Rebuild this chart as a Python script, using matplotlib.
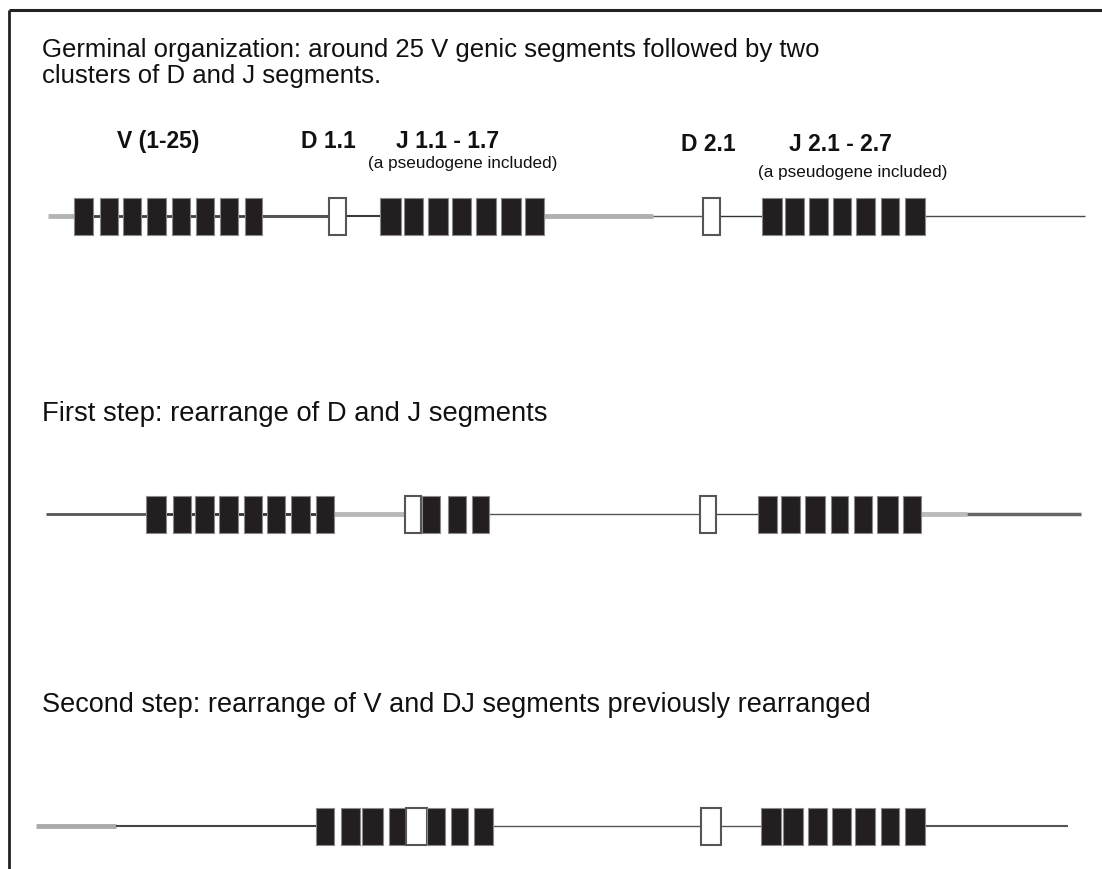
import matplotlib.pyplot as plt
from matplotlib.patches import Rectangle

plt.rcParams['font.family'] = ['Liberation Sans', 'DejaVu Sans']

# captions
title_lines = ["Germinal organization: around 25 V genic segments followed by two",
               "clusters of D and J segments."]
step1_text = "First step: rearrange of D and J segments"
step2_text = "Second step: rearrange of V and DJ segments previously rearranged"

# segment labels of the germinal locus
seg_labels = ["V (1-25)", "D 1.1", "J 1.1 - 1.7", "D 2.1", "J 2.1 - 2.7"]
seg_label_x = [117, 301, 396, 681, 789]
seg_label_y = [148, 148, 148, 151, 151]
pseudo_text = "(a pseudogene included)"
pseudo_x = [368, 758]
pseudo_y = [168, 177]

# line of each locus (y position)
row_y = [216, 514, 826]

# gene segments per row: (x_left, x_right, kind)  B = coding segment, O = open (D) segment
row1_boxes = [(74, 93, 'B'), (100, 118, 'B'), (123, 141, 'B'), (147, 166, 'B'),
              (172, 190, 'B'), (196, 214, 'B'), (220, 238, 'B'), (245, 262, 'B'),
              (329, 346, 'O'),
              (380, 401, 'B'), (404, 423, 'B'), (428, 448, 'B'), (452, 471, 'B'),
              (476, 496, 'B'), (501, 521, 'B'), (525, 544, 'B'),
              (703, 720, 'O'),
              (762, 782, 'B'), (785, 804, 'B'), (809, 828, 'B'), (833, 851, 'B'),
              (856, 875, 'B'), (881, 899, 'B'), (905, 925, 'B')]
row2_boxes = [(146, 166, 'B'), (173, 191, 'B'), (195, 214, 'B'), (219, 238, 'B'),
              (244, 262, 'B'), (267, 285, 'B'), (291, 310, 'B'), (316, 334, 'B'),
              (405, 421, 'O'), (422, 440, 'B'), (448, 466, 'B'), (472, 489, 'B'),
              (700, 716, 'O'),
              (758, 777, 'B'), (781, 800, 'B'), (805, 825, 'B'), (831, 848, 'B'),
              (854, 872, 'B'), (877, 898, 'B'), (903, 921, 'B')]
row3_boxes = [(316, 334, 'B'), (341, 360, 'B'), (362, 383, 'B'), (389, 406, 'B'),
              (406, 427, 'O'), (427, 445, 'B'), (451, 468, 'B'), (474, 493, 'B'),
              (701, 721, 'O'),
              (761, 781, 'B'), (783, 803, 'B'), (808, 827, 'B'), (832, 851, 'B'),
              (855, 875, 'B'), (881, 899, 'B'), (905, 925, 'B')]

# DNA line pieces per row: (x0, x1, colour, width)
row1_lines = [(48, 75, '#b4b4b4', 3.5), (75, 262, '#404040', 2.0), (262, 329, '#555555', 2.2),
              (346, 380, '#3a3a3a', 1.5), (544, 653, '#b0b0b0', 3.5), (653, 703, '#555555', 1.0),
              (720, 762, '#333333', 1.0), (925, 1085, '#4a4a4a', 1.0)]
row2_lines = [(46, 146, '#555555', 2.0), (146, 334, '#333333', 2.0), (334, 405, '#b8b8b8', 3.5),
              (489, 700, '#555555', 1.0), (716, 758, '#444444', 1.0), (921, 967, '#bbbbbb', 3.5),
              (967, 1081, '#666666', 2.5)]
row3_lines = [(36, 116, '#aaaaaa', 3.5), (116, 316, '#444444', 1.5), (493, 701, '#555555', 1.0),
              (721, 761, '#555555', 1.0), (925, 1068, '#555555', 1.5)]

box_h = 37

fig = plt.figure(figsize=(11.02, 8.69), dpi=100)
ax = fig.add_axes([0, 0, 1, 1])
ax.set_xlim(0, 1102)
ax.set_ylim(869, 0)
ax.axis('off')

# frame (top and left only visible)
ax.plot([9, 1102], [10, 10], color='#222222', lw=2.2, solid_capstyle='butt')
ax.plot([9, 9], [10, 869], color='#222222', lw=2.0, solid_capstyle='butt')

# captions
ax.text(42, 57, title_lines[0], fontsize=18.5, color='#111111', va='baseline')
ax.text(42, 83, title_lines[1], fontsize=18.5, color='#111111', va='baseline')
ax.text(42, 421, step1_text, fontsize=19.7, color='#111111', va='baseline')
ax.text(42, 712, step2_text, fontsize=19.5, color='#111111', va='baseline')

for t, x, y in zip(seg_labels, seg_label_x, seg_label_y):
    ax.text(x, y, t, fontsize=16.5, fontweight='bold', color='#111111', va='baseline')
for x, y in zip(pseudo_x, pseudo_y):
    ax.text(x, y, pseudo_text, fontsize=12.3, color='#111111', va='baseline')

for y, lines, boxes in zip(row_y, [row1_lines, row2_lines, row3_lines],
                           [row1_boxes, row2_boxes, row3_boxes]):
    for x0, x1, c, w in lines:
        ax.plot([x0, x1], [y, y], color=c, lw=w, solid_capstyle='butt', zorder=1)
    for x0, x1, kind in boxes:
        if kind == 'B':
            ax.add_patch(Rectangle((x0, y - box_h / 2), x1 - x0, box_h,
                                   facecolor='#231f20', edgecolor='#8a8a8a', lw=0.8, zorder=2))
        else:
            ax.add_patch(Rectangle((x0, y - box_h / 2), x1 - x0, box_h,
                                   facecolor='white', edgecolor='#555555', lw=1.5, zorder=2))

fig.savefig('out.png', dpi=100, facecolor='white')
